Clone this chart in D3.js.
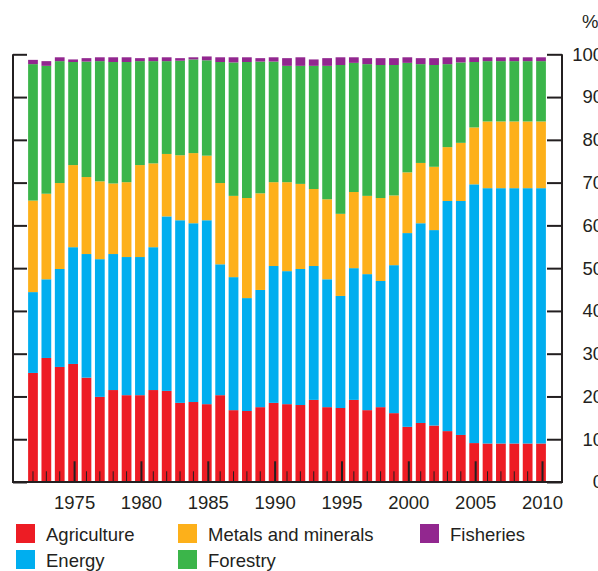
<!DOCTYPE html>
<html>
<head>
<meta charset="utf-8">
<script src="https://cdn.jsdelivr.net/npm/d3@7"></script>
<style>
  body { margin: 0; background: #fff; }
  svg { display: block; font-family: Arial, "Liberation Sans", sans-serif; }
</style>
</head>
<body>
<script>
// shares of each category, per year (percent)
const years = d3.range(1972, 2011);
const agriculture = [25.5, 29.0, 26.9, 27.6, 24.4, 19.9, 21.5, 20.3, 20.3, 21.5,
  21.3, 18.5, 18.7, 18.2, 20.3, 16.8, 16.6, 17.5, 18.5, 18.2,
  18.0, 19.2, 17.5, 17.3, 19.2, 16.8, 17.5, 16.1, 12.9, 13.8,
  13.2, 11.9, 11.0, 9.1, 9.0, 9.0, 9.0, 9.0, 9.0];
const energy = [18.9, 18.4, 22.9, 27.3, 28.9, 32.2, 31.8, 32.3, 32.3, 33.4,
  40.8, 42.7, 41.8, 43.0, 30.6, 31.1, 26.4, 27.4, 32.0, 31.1,
  31.8, 31.3, 29.9, 26.2, 30.8, 31.8, 29.5, 34.6, 45.3, 46.7,
  45.7, 53.8, 54.7, 60.5, 59.7, 59.7, 59.7, 59.7, 59.7];
const metals = [21.4, 20.0, 20.1, 19.2, 18.0, 18.2, 16.5, 17.5, 21.5, 19.6,
  14.6, 15.2, 16.4, 15.1, 19.0, 19.0, 23.4, 22.6, 19.6, 20.8,
  19.9, 18.0, 18.7, 19.2, 17.8, 18.3, 19.4, 16.3, 14.2, 14.1,
  14.8, 12.6, 13.6, 13.3, 15.6, 15.6, 15.6, 15.6, 15.6];
const forestry = [31.9, 29.9, 28.5, 24.1, 27.0, 28.1, 28.4, 28.1, 24.3, 23.9,
  21.7, 22.1, 21.9, 22.3, 28.3, 31.2, 31.8, 30.8, 28.2, 27.2,
  27.6, 28.8, 31.2, 34.8, 30.2, 30.8, 31.1, 30.5, 25.6, 23.1,
  23.8, 19.4, 18.8, 15.3, 14.1, 14.1, 14.1, 14.1, 14.1];
const fisheries = [1.0, 1.1, 0.9, 0.6, 0.8, 0.9, 1.1, 1.1, 0.7, 0.9,
  0.9, 0.6, 0.5, 0.9, 1.1, 1.2, 1.1, 0.8, 1.0, 1.8,
  2.0, 1.5, 1.8, 1.8, 1.3, 1.4, 1.6, 1.6, 1.3, 1.4,
  1.6, 1.6, 1.2, 1.1, 0.9, 0.9, 0.9, 0.9, 0.9];
const yTicks = [0, 10, 20, 30, 40, 50, 60, 70, 80, 90, 100];

const seriesNames = ['Agriculture', 'Energy', 'Metals and minerals', 'Forestry', 'Fisheries'];
const colors = ['#ED1C24', '#00AEEF', '#FDB01A', '#3BB54A', '#92278F'];
const seriesValues = [agriculture, energy, metals, forestry, fisheries];

const width = 598, height = 571;
const ink = '#231F20';

const rows = years.map((yr, i) => {
  const r = {year: yr};
  seriesNames.forEach((s, j) => r[s] = seriesValues[j][i]);
  return r;
});
const stacked = d3.stack().keys(seriesNames)(rows);

const svg = d3.select('body').append('svg')
    .attr('width', width)
    .attr('height', height);

const x = d3.scaleBand()
    .domain(years)
    .range([26.3, 547.7])
    .paddingInner(0.27)
    .paddingOuter(0.135);

const y = d3.scaleLinear()
    .domain([0, 100])
    .range([482, 54.3]);

// bars
svg.append('g')
  .selectAll('g')
  .data(stacked)
  .join('g')
    .attr('fill', (d, i) => colors[i])
  .selectAll('rect')
  .data(d => d)
  .join('rect')
    .attr('x', d => x(d.data.year))
    .attr('width', x.bandwidth())
    .attr('y', d => y(d[1]))
    .attr('height', d => y(d[0]) - y(d[1]));

// left axis, ticks only
const leftAxis = svg.append('g')
    .attr('transform', 'translate(13,0)')
    .call(d3.axisRight(y).tickValues(yTicks).tickSize(14).tickFormat(''));
leftAxis.select('.domain').remove();

// right axis with labels
const rightAxis = svg.append('g')
    .attr('transform', 'translate(562,0)')
    .call(d3.axisRight(y).tickValues(yTicks).tickSize(-15).tickPadding(0));
rightAxis.select('.domain').remove();
rightAxis.selectAll('text')
    .attr('x', 41)
    .attr('text-anchor', 'end')
    .attr('font-size', 18.5)
    .attr('font-family', 'Arial, "Liberation Sans", sans-serif')
    .attr('fill', ink);

// bottom axis: minor ticks every year, longer ones every 5 years
const bottomAxis = svg.append('g')
    .attr('transform', 'translate(0,482)')
    .call(d3.axisBottom(x).tickSizeInner(-10.7).tickSizeOuter(0).tickPadding(14.2)
      .tickFormat(d => d % 5 === 0 ? d : ''));
bottomAxis.select('.domain').remove();
bottomAxis.selectAll('.tick')
    .filter(d => d % 5 === 0)
    .attr('transform', d => 'translate(' + (x(d) + x.bandwidth() / 2 + 1.5) + ',0)')
    .select('line')
    .attr('y2', -20.7)
    .attr('stroke-width', 2);
bottomAxis.selectAll('text')
    .attr('font-size', 18.5)
    .attr('font-family', 'Arial, "Liberation Sans", sans-serif')
    .attr('fill', ink);

svg.selectAll('.tick line').attr('stroke', ink);
leftAxis.selectAll('line').attr('stroke-width', 2);
rightAxis.selectAll('line').attr('stroke-width', 2);

// frame lines
svg.append('path')
    .attr('d', 'M13,54.3V482H562V54.3')
    .attr('fill', 'none')
    .attr('stroke', ink)
    .attr('stroke-width', 2);

svg.append('text')
    .attr('x', 582)
    .attr('y', 28)
    .attr('font-size', 18.5)
    .attr('fill', ink)
    .text('%');

// legend
const legendPos = [[16, 524], [16, 550], [178, 524], [178, 550], [420, 524]];
const legendOrder = ['Agriculture', 'Energy', 'Metals and minerals', 'Forestry', 'Fisheries'];
const legend = svg.append('g')
  .selectAll('g')
  .data(legendOrder)
  .join('g')
    .attr('transform', (d, i) => 'translate(' + legendPos[i][0] + ',' + legendPos[i][1] + ')');
legend.append('rect')
    .attr('width', 19)
    .attr('height', 19)
    .attr('fill', d => colors[seriesNames.indexOf(d)]);
legend.append('text')
    .attr('x', 30)
    .attr('y', 16.5)
    .attr('font-size', 18.5)
    .attr('fill', ink)
    .text(d => d);
</script>
</body>
</html>
